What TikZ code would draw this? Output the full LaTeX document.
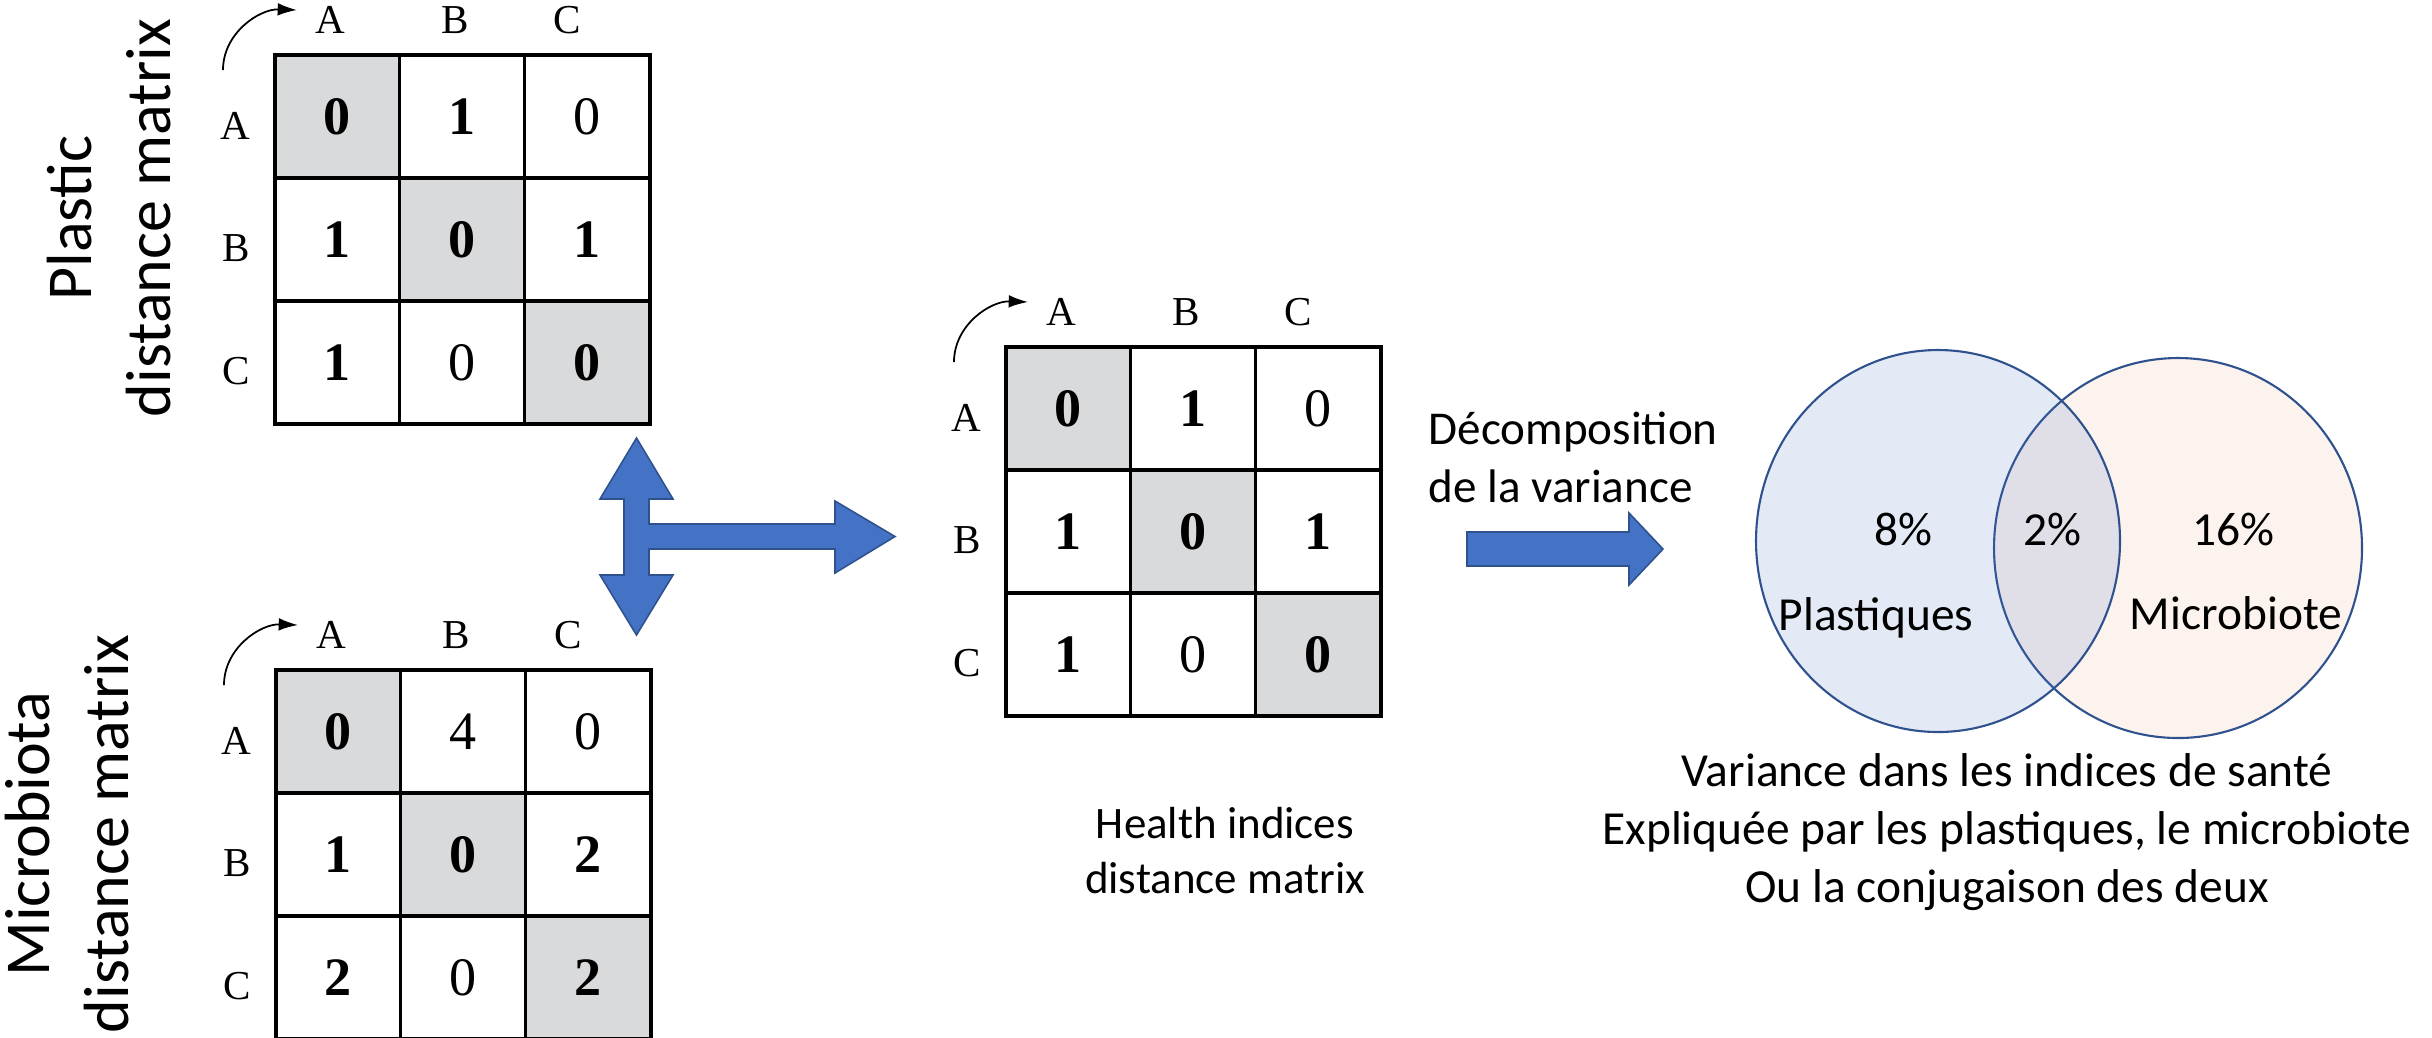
\documentclass[tikz,border=0pt]{standalone}
\usepackage{fontspec}
\setmainfont{Carlito}
\newfontfamily\timesfont{Liberation Serif}
\usetikzlibrary{matrix, shapes.geometric, arrows.meta, calc}
\definecolor{cellgrey}{HTML}{D9DADC}
\definecolor{arrowblue}{HTML}{4472C4}
\definecolor{edgeblue}{HTML}{2F528F}
\definecolor{peach}{HTML}{FCF3EE}

\begin{document}
\begin{tikzpicture}[x=0.1mm, y=-0.1mm,
        cell/.style={draw, line width=0.45pt, minimum width=12.33mm, minimum height=12.13mm, inner sep=0pt, outer sep=0pt, font=\timesfont\fontsize{15.4}{18}\selectfont},
        diag/.style={fill=cellgrey},
        distmat/.style={matrix of nodes, inner sep=0pt, outer sep=0pt, nodes={cell}, anchor=north west},
        frame/.style={line width=1.2pt},
        axislabel/.style={font=\timesfont\fontsize{11.7}{14}\selectfont, inner sep=0pt},
        turnarrow/.style={-{Latex[length=5.5pt, width=3.6pt]}, line width=0.5pt},
        sidelabel/.style={rotate=90, anchor=base, align=center, inner sep=0pt, font=\fontsize{18.2}{22.2}\selectfont},
        caption/.style={align=center, inner sep=0pt, font=\fontsize{13.4}{16.4}\selectfont},
        vennlabel/.style={inner sep=0pt, anchor=base, font=\fontsize{13.5}{16.5}\selectfont},
        blockarrow/.style={fill=arrowblue, draw=edgeblue, line width=0.45pt, line join=miter},
        venn/.style={ellipse, draw=edgeblue, line width=0.6pt, inner sep=0pt}
    ]
    \useasboundingbox (0,0) rectangle (2432,1037);

    % the three distance matrices
    \matrix (plastic) [distmat] at (275,55) {
        |[diag]| \textbf{0} & \textbf{1} & 0 \\
        \textbf{1} & |[diag]| \textbf{0} & \textbf{1} \\
        \textbf{1} & 0 & |[diag]| \textbf{0} \\
    };
    \matrix (micro) [distmat] at (276,670) {
        |[diag]| \textbf{0} & 4 & 0 \\
        \textbf{1} & |[diag]| \textbf{0} & \textbf{2} \\
        \textbf{2} & 0 & |[diag]| \textbf{2} \\
    };
    \matrix (health) [distmat] at (1006,347) {
        |[diag]| \textbf{0} & \textbf{1} & 0 \\
        \textbf{1} & |[diag]| \textbf{0} & \textbf{1} \\
        \textbf{1} & 0 & |[diag]| \textbf{0} \\
    };

    % frames, row/column names and the little turn arrows
    \foreach \m in {plastic, micro, health} {
        \draw [frame] (\m.north west) rectangle (\m.south east);
        \foreach \c/\l/\dx in {1/A/-0.7mm, 2/B/-0.7mm, 3/C/-2mm}
            \node (\m-col\c) [axislabel, anchor=base] at ([xshift=\dx, yshift=2.2mm]\m-1-\c.north) {\l};
        \foreach \r/\l in {1/A, 2/B, 3/C}
            \node (\m-row\r) [axislabel] at ([xshift=-4mm, yshift=-0.9mm]\m-\r-1.west) {\l};
        \coordinate (\m-from) at ([xshift=-5.2mm, yshift=-1.5mm]\m.north west);
        \coordinate (\m-to) at ([xshift=2.2mm, yshift=4.5mm]\m.north west);
        \draw [turnarrow] (\m-from) to[out=90, in=178] (\m-to);
    }

    \node (plasticlabel) [sidelabel] at (170,218) {Plastic\\distance matrix};
    \node (microlabel) [sidelabel] at (128,834) {Microbiota\\distance matrix};
    \node (healthlabel) [caption, anchor=base, font=\fontsize{12.8}{15.4}\selectfont] at (1225,893) {Health indices\\distance matrix};

    % block arrows
    \draw [blockarrow] (636.5,438) -- (673,499) -- (649,499) -- (649,524) -- (835,524) -- (835,501)
        -- (895,536.5) -- (835,573) -- (835,549) -- (649,549) -- (649,575) -- (673,575)
        -- (636.5,635) -- (600,575) -- (624,575) -- (624,499) -- (600,499) -- cycle;
    \draw [blockarrow] (1467,532) -- (1629,532) -- (1629,513) -- (1663,549) -- (1629,585)
        -- (1629,566) -- (1467,566) -- cycle;
    \node (decomp) [caption, align=left, anchor=base west] at (1428,502) {Décomposition\\de la variance};

    % variance partition
    \node (microset) [venn, fill=peach, minimum width=36.8mm, minimum height=38mm] at (2178,548) {};
    \node (plastset) [venn, fill=arrowblue, fill opacity=0.15, minimum width=36.4mm, minimum height=38.2mm] at (1938,541) {};
    \node (plastpct) [vennlabel] at (1903,545) {8\%};
    \node (sharedpct) [vennlabel] at (2052,545) {2\%};
    \node (micropct) [vennlabel] at (2233,545) {16\%};
    \node (plastname) [vennlabel] at (1876,630) {Plastiques};
    \node (microname) [vennlabel] at (2236,629) {Microbiote};
    \node (venncaption) [caption, anchor=base, font=\fontsize{13.5}{16.5}\selectfont] at (2007,902)
        {Variance dans les indices de santé\\Expliquée par les plastiques, le microbiote\\Ou la conjugaison des deux};
\end{tikzpicture}
\end{document}
